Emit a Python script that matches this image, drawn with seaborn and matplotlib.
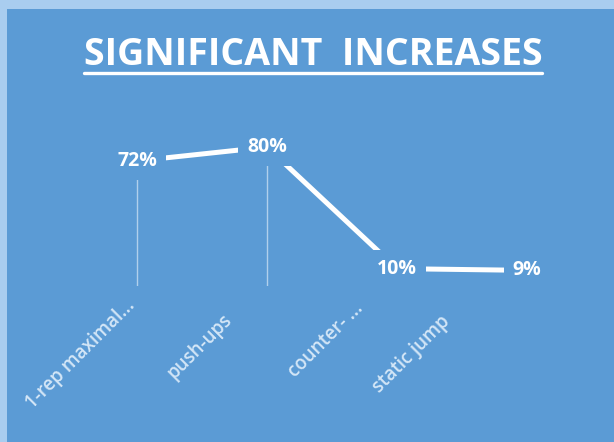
import matplotlib
matplotlib.use("Agg")
import matplotlib.pyplot as plt
import matplotlib.transforms as mtransforms
from matplotlib.lines import Line2D
from matplotlib.patches import Rectangle
import seaborn as sns
import pandas as pd

categories = ["1-rep maximal...", "push-ups", "counter- ...", "static jump"]
values = [72, 80, 10, 9]
value_labels = ["72%", "80%", "10%", "9%"]
title = "SIGNIFICANT  INCREASES"

BLUE = "#5B9BD5"
BORDER = "#A9CDEF"
WHITE = "#FFFFFF"
TICKCOL = "#D3E6F7"

sns.set_theme(style="white")
plt.rcParams["font.family"] = ["Open Sans", "DejaVu Sans"]

W, H = 614, 442
fig = plt.figure(figsize=(W / 100, H / 100), dpi=100)
fig.patch.set_facecolor(BORDER)
fig.add_artist(Rectangle((7 / W, 0), 1, 1 - 9 / H, transform=fig.transFigure,
                         facecolor=BLUE, edgecolor="none", zorder=0))

ax = fig.add_axes([72 / W, (H - 286) / H, 520 / W, 173.7 / H])
ax.set_facecolor("none")
df = pd.DataFrame({"cat": categories, "val": values})
df["x"] = range(len(df))

ax.vlines(df["x"][:2], 0, df["val"][:2], color="#CFE2F5", linewidth=1.0, alpha=0.75, zorder=1)
sns.lineplot(data=df, x="x", y="val", ax=ax, color=WHITE, linewidth=3.6,
             solid_capstyle="round", zorder=2)
for xi, v, lab in zip(df["x"], df["val"], value_labels):
    ax.text(xi, v, lab, ha="center", va="center", color=WHITE, fontsize=14,
            fontweight="bold", zorder=3,
            bbox=dict(boxstyle="square,pad=0.45", facecolor=BLUE, edgecolor="none"))

ax.set_xlim(-0.5, 3.5)
ax.set_ylim(0, 100)
ax.set_yticks([])
ax.set_xticks(df["x"])
ax.set_xticklabels(categories)
ax.set_xlabel("")
ax.set_ylabel("")
for s in ax.spines.values():
    s.set_visible(False)
ax.tick_params(axis="x", length=0, pad=0)

offsets = [(-12, -10), (-45, -24), (-44, -13), (-87, -26)]
for lab, (dx, dy) in zip(ax.get_xticklabels(), offsets):
    lab.set_rotation(45)
    lab.set_rotation_mode("anchor")
    lab.set_ha("right")
    lab.set_va("top")
    lab.set_color(TICKCOL)
    lab.set_fontsize(13.5)
    lab.set_fontweight("semibold")
    lab.set_transform(lab.get_transform() +
                      mtransforms.ScaledTranslation(dx / 100, dy / 100, fig.dpi_scale_trans))

t = fig.text(313 / W, 1 - 55 / H, title, ha="center", va="center", color=WHITE,
             fontsize=27, fontweight="bold")
fig.canvas.draw()
bb = t.get_window_extent().transformed(fig.transFigure.inverted())
uy = 1 - 73 / H
fig.add_artist(Line2D([bb.x0, bb.x1], [uy, uy], transform=fig.transFigure,
                      color=WHITE, linewidth=2.4))

fig.savefig("out.png", dpi=100, facecolor=fig.get_facecolor())
